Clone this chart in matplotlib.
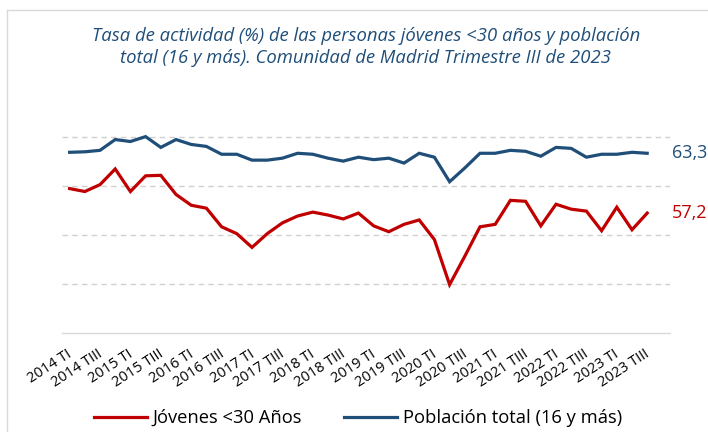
import matplotlib.pyplot as plt
import matplotlib.transforms as mtransforms
from matplotlib.lines import Line2D
import numpy as np

# quarters 2014 TI .. 2023 TIII
years = list(range(2014, 2024))
quarters = ["TI", "TII", "TIII", "TIV"]
periods = [f"{y} {q}" for y in years for q in quarters][:39]

jovenes = [59.7, 59.4, 60.1, 61.7, 59.4, 61.0, 61.05, 59.1, 58.0, 57.7,
           55.8, 55.1, 53.7, 55.1, 56.2, 56.9, 57.3, 57.0, 56.6, 57.2,
           55.9, 55.3, 56.05, 56.5, 54.5, 49.9, 52.8, 55.8, 56.05, 58.5,
           58.4, 55.9, 58.1, 57.6, 57.4, 55.4, 57.8, 55.5, 57.2]
poblacion = [63.4, 63.45, 63.6, 64.7, 64.5, 65.0, 63.9, 64.7, 64.2, 64.0,
             63.2, 63.2, 62.6, 62.6, 62.8, 63.3, 63.2, 62.8, 62.5, 62.9,
             62.65, 62.8, 62.3, 63.3, 62.9, 60.4, 61.8, 63.3, 63.3, 63.6,
             63.5, 63.0, 63.9, 63.8, 62.9, 63.2, 63.2, 63.4, 63.3]

RED = "#C00000"
BLUE = "#1F4E79"
FONT = "Open Sans"

fig = plt.figure(figsize=(7.08, 4.32), dpi=100)
ax = fig.add_axes([62 / 708, 1 - 332.7 / 432, (670 - 62) / 708, (332.7 - 117) / 432])

x = np.arange(len(periods))
ax.plot(x, jovenes, color=RED, lw=2.3, label="Jóvenes <30 Años", solid_joinstyle="miter")
ax.plot(x, poblacion, color=BLUE, lw=2.3, label="Población total (16 y más)", solid_joinstyle="miter")

ax.set_xlim(-0.5, 39.5)
ax.set_ylim(45, 67)
ax.set_yticks([50, 55, 60, 65])
ax.yaxis.grid(True, color="#D0D0D0", ls=(0, (4, 3)), lw=1)
ax.tick_params(axis="y", left=False, labelleft=False)
ax.tick_params(axis="x", length=0, pad=10)
for s in ["top", "right", "left"]:
    ax.spines[s].set_visible(False)
ax.spines["bottom"].set_color("#D9D9D9")
ax.spines["bottom"].set_linewidth(1)

idx = [i for i, p in enumerate(periods) if p.endswith(" TI") or p.endswith(" TIII")]
ax.set_xticks(idx)
ax.set_xticklabels([periods[i] for i in idx], rotation=33, ha="right",
                   rotation_mode="anchor", fontsize=10.5, family=FONT)
shift = mtransforms.ScaledTranslation(-3 / 100, 0, fig.dpi_scale_trans)
for lab in ax.get_xticklabels():
    lab.set_transform(lab.get_transform() + shift)

ax.text(1.003, poblacion[-1], f"{poblacion[-1]:.1f}".replace(".", ","),
        transform=ax.get_yaxis_transform(), color=BLUE, fontsize=13,
        va="center", ha="left", family=FONT)
ax.text(1.003, jovenes[-1], f"{jovenes[-1]:.1f}".replace(".", ","),
        transform=ax.get_yaxis_transform(), color=RED, fontsize=13,
        va="center", ha="left", family=FONT)

fig.text(366 / 708, 1 - 47 / 432,
         "Tasa de actividad (%) de las personas jóvenes <30 años y población\n"
         "total (16 y más). Comunidad de Madrid Trimestre III de 2023",
         ha="center", va="center", color=BLUE, fontsize=13.3, style="italic",
         family=FONT, linespacing=1.3)

fig.legend(loc="center", bbox_to_anchor=(358 / 708, 1 - 418 / 432), ncol=2,
           frameon=False, prop={"family": FONT, "size": 13.2},
           handlelength=2.9, columnspacing=2.3, handletextpad=0.3)

# chart border (top and left edges visible)
fig.add_artist(Line2D([6.5 / 708, 1], [1 - 10 / 432, 1 - 10 / 432], color="#D9D9D9", lw=1))
fig.add_artist(Line2D([6.5 / 708, 6.5 / 708], [0, 1 - 10 / 432], color="#D9D9D9", lw=1))

fig.savefig("out.png", dpi=100)
